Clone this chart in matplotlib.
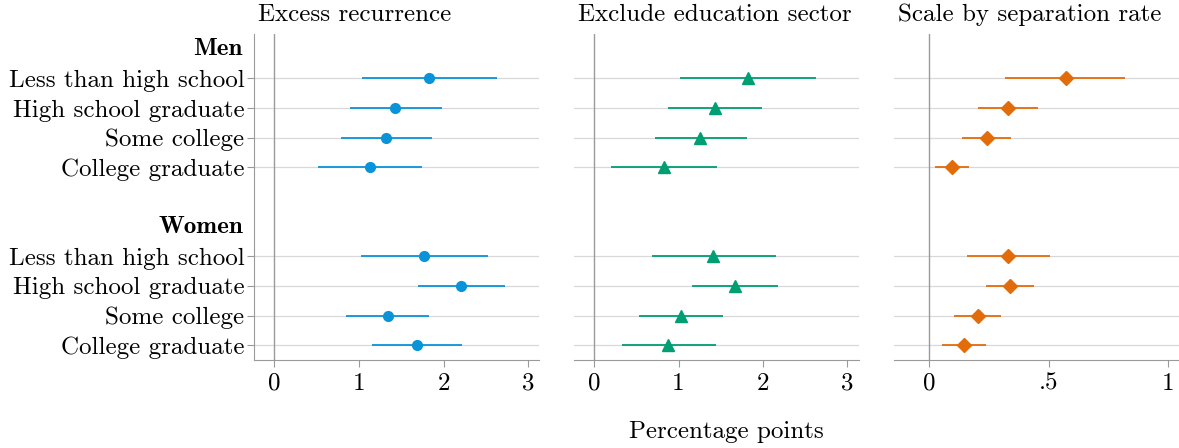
import matplotlib
matplotlib.use("Agg")
import matplotlib.pyplot as plt
import numpy as np

plt.rcParams['font.family'] = 'cmr10'
plt.rcParams['axes.formatter.use_mathtext'] = True

# rows (top to bottom)
groups = ["Men", "Women"]
levels = ["Less than high school", "High school graduate", "Some college", "College graduate"]

# Excess recurrence
excess_men = [1.83, 1.43, 1.32, 1.13]
excess_men_lo = [1.03, 0.89, 0.79, 0.52]
excess_men_hi = [2.63, 1.98, 1.86, 1.74]
excess_women = [1.77, 2.21, 1.34, 1.69]
excess_women_lo = [1.02, 1.70, 0.85, 1.15]
excess_women_hi = [2.52, 2.72, 1.83, 2.22]

# Exclude education sector
noedu_men = [1.82, 1.43, 1.26, 0.83]
noedu_men_lo = [1.02, 0.88, 0.72, 0.20]
noedu_men_hi = [2.63, 1.99, 1.81, 1.46]
noedu_women = [1.41, 1.67, 1.03, 0.88]
noedu_women_lo = [0.68, 1.16, 0.53, 0.33]
noedu_women_hi = [2.16, 2.18, 1.53, 1.44]

# Scale by separation rate
scaled_men = [0.571, 0.328, 0.240, 0.095]
scaled_men_lo = [0.318, 0.202, 0.137, 0.024]
scaled_men_hi = [0.822, 0.455, 0.343, 0.166]
scaled_women = [0.331, 0.338, 0.203, 0.146]
scaled_women_lo = [0.158, 0.237, 0.104, 0.055]
scaled_women_hi = [0.504, 0.439, 0.300, 0.237]

titles = ["Excess recurrence", "Exclude education sector", "Scale by separation rate"]
colors = ["#0993d8", "#009e73", "#e36c0a"]
markers = ["o", "^", "D"]
msizes = [7, 8, 7]

# y positions: header, 4 rows, blank, header, 4 rows
men_y = [1, 2, 3, 4]
women_y = [7, 8, 9, 10]
head_y = [0, 6]

panels = [
    (excess_men, excess_men_lo, excess_men_hi, excess_women, excess_women_lo, excess_women_hi),
    (noedu_men, noedu_men_lo, noedu_men_hi, noedu_women, noedu_women_lo, noedu_women_hi),
    (scaled_men, scaled_men_lo, scaled_men_hi, scaled_women, scaled_women_lo, scaled_women_hi),
]

fig = plt.figure(figsize=(11.79, 4.48), dpi=100)
lefts = [254 / 1179, 574.3 / 1179, 894.3 / 1179]
w = 284.5 / 1179
bottom = 1 - 360 / 448
h = (360 - 34) / 448
xlims = [(-0.24, 3.12), (-0.237, 3.14), (-0.147, 1.046)]

gray = "#9a9a9a"
fs = 18

for i, (data, left) in enumerate(zip(panels, lefts)):
    ax = fig.add_axes([left, bottom, w, h])
    m, mlo, mhi, wv, wlo, whi = data
    for yy in men_y + women_y:
        ax.axhline(yy, color="#d8d8d8", lw=0.9, zorder=0)
    ax.axvline(0, color=gray, lw=1.0, zorder=1)
    ax.hlines(men_y, mlo, mhi, color=colors[i], lw=1.3, zorder=2)
    ax.hlines(women_y, wlo, whi, color=colors[i], lw=1.3, zorder=2)
    ax.plot(m, men_y, markers[i], color=colors[i], ms=msizes[i], zorder=3)
    ax.plot(wv, women_y, markers[i], color=colors[i], ms=msizes[i], zorder=3)
    ax.set_xlim(xlims[i])
    ax.set_ylim(10.5, -0.5)
    ax.text(4 / 284.5, 1 + 19 / 326, titles[i], transform=ax.transAxes, ha="left", va="center",
            fontsize=fs)
    for s in ["top", "right"]:
        ax.spines[s].set_visible(False)
    ax.spines["bottom"].set_color(gray)
    ax.spines["left"].set_color(gray)
    ax.tick_params(axis="x", colors=gray, labelcolor="black", labelsize=fs, length=5, width=0.8, pad=4)
    if i == 2:
        ax.set_xticks([0, 0.5, 1])
        ax.set_xticklabels(["0", ".5", "1"])
    else:
        ax.set_xticks([0, 1, 2, 3])
        ax.set_xticklabels(["0", "1", "2", "3"])
    if i == 0:
        ax.set_yticks(men_y + women_y)
        ax.set_yticklabels(levels + levels)
        ax.tick_params(axis="y", colors=gray, labelcolor="black", labelsize=fs, length=5, width=0.8, pad=2)
        for g, yy in zip(groups, head_y):
            ax.text(-11 / 284.5, yy, g, transform=ax.get_yaxis_transform(), ha="right", va="center",
                    fontsize=fs, fontfamily="cmb10")
    else:
        ax.spines["left"].set_visible(False)
        ax.set_yticks([])

fig.text(726 / 1179, 1 - 432 / 448, "Percentage points", ha="center", va="center", fontsize=fs)
fig.savefig("out.png", dpi=100)
